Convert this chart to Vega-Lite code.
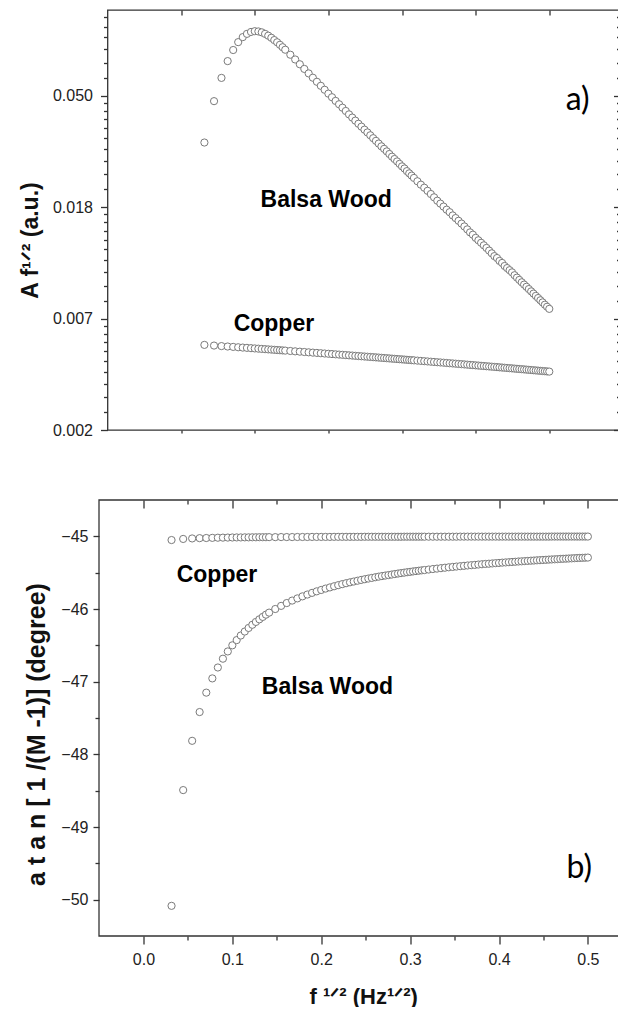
{
  "$schema": "https://vega.github.io/schema/vega-lite/v6.json",
  "background": "white",
  "padding": {"left": 18.5, "top": 8, "right": 0, "bottom": 0},
  "spacing": 60,
  "config": {
    "view": {"stroke": "#333", "strokeWidth": 1.3},
    "axis": {"labelFont": "Liberation Sans", "labelFontSize": 16, "labelColor": "#222", "titleFont": "Liberation Sans", "titleFontWeight": "bold", "titleColor": "#111", "tickColor": "#333", "tickWidth": 1.3, "domain": false, "grid": false, "labelFlush": false, "labelOverlap": false}
  },
  "datasets": {
    "amp": [
      {"s":"Balsa Wood","x":0.0316,"y":0.0327},{"s":"Balsa Wood","x":0.0447,"y":0.0474},{"s":"Balsa Wood","x":0.0548,"y":0.0584},{"s":"Balsa Wood","x":0.0632,"y":0.0679},{"s":"Balsa Wood","x":0.0707,"y":0.075},{"s":"Balsa Wood","x":0.0775,"y":0.0805},{"s":"Balsa Wood","x":0.0837,"y":0.0842},{"s":"Balsa Wood","x":0.0894,"y":0.0867},{"s":"Balsa Wood","x":0.0949,"y":0.0882},{"s":"Balsa Wood","x":0.1,"y":0.0888},
      {"s":"Balsa Wood","x":0.1049,"y":0.0886},{"s":"Balsa Wood","x":0.1095,"y":0.0879},{"s":"Balsa Wood","x":0.114,"y":0.0867},{"s":"Balsa Wood","x":0.1183,"y":0.0853},{"s":"Balsa Wood","x":0.1225,"y":0.0837},{"s":"Balsa Wood","x":0.1265,"y":0.082},{"s":"Balsa Wood","x":0.1304,"y":0.0804},{"s":"Balsa Wood","x":0.1342,"y":0.0786},{"s":"Balsa Wood","x":0.1378,"y":0.0769},{"s":"Balsa Wood","x":0.1414,"y":0.0752},
      {"s":"Balsa Wood","x":0.1483,"y":0.0719},{"s":"Balsa Wood","x":0.1549,"y":0.0689},{"s":"Balsa Wood","x":0.1612,"y":0.066},{"s":"Balsa Wood","x":0.1673,"y":0.0633},{"s":"Balsa Wood","x":0.1732,"y":0.0608},{"s":"Balsa Wood","x":0.1789,"y":0.0585},{"s":"Balsa Wood","x":0.1844,"y":0.0564},{"s":"Balsa Wood","x":0.1897,"y":0.0544},{"s":"Balsa Wood","x":0.1949,"y":0.0525},{"s":"Balsa Wood","x":0.2,"y":0.0507},
      {"s":"Balsa Wood","x":0.2049,"y":0.0491},{"s":"Balsa Wood","x":0.2098,"y":0.0475},{"s":"Balsa Wood","x":0.2145,"y":0.0461},{"s":"Balsa Wood","x":0.2191,"y":0.0447},{"s":"Balsa Wood","x":0.2236,"y":0.0434},{"s":"Balsa Wood","x":0.228,"y":0.0421},{"s":"Balsa Wood","x":0.2324,"y":0.0409},{"s":"Balsa Wood","x":0.2366,"y":0.0398},{"s":"Balsa Wood","x":0.2408,"y":0.0387},{"s":"Balsa Wood","x":0.2449,"y":0.0377},
      {"s":"Balsa Wood","x":0.249,"y":0.0367},{"s":"Balsa Wood","x":0.253,"y":0.0358},{"s":"Balsa Wood","x":0.2569,"y":0.0349},{"s":"Balsa Wood","x":0.2608,"y":0.034},{"s":"Balsa Wood","x":0.2646,"y":0.0332},{"s":"Balsa Wood","x":0.2683,"y":0.0324},{"s":"Balsa Wood","x":0.272,"y":0.0316},{"s":"Balsa Wood","x":0.2757,"y":0.0309},{"s":"Balsa Wood","x":0.2793,"y":0.0302},{"s":"Balsa Wood","x":0.2828,"y":0.0295},
      {"s":"Balsa Wood","x":0.2864,"y":0.0288},{"s":"Balsa Wood","x":0.2898,"y":0.0282},{"s":"Balsa Wood","x":0.2933,"y":0.0276},{"s":"Balsa Wood","x":0.2966,"y":0.027},{"s":"Balsa Wood","x":0.3,"y":0.0264},{"s":"Balsa Wood","x":0.3033,"y":0.0259},{"s":"Balsa Wood","x":0.3066,"y":0.0253},{"s":"Balsa Wood","x":0.3098,"y":0.0248},{"s":"Balsa Wood","x":0.313,"y":0.0243},{"s":"Balsa Wood","x":0.3162,"y":0.0238},
      {"s":"Balsa Wood","x":0.3209,"y":0.0231},{"s":"Balsa Wood","x":0.3256,"y":0.0224},{"s":"Balsa Wood","x":0.3302,"y":0.0218},{"s":"Balsa Wood","x":0.3347,"y":0.0212},{"s":"Balsa Wood","x":0.3391,"y":0.0206},{"s":"Balsa Wood","x":0.3435,"y":0.02},{"s":"Balsa Wood","x":0.3479,"y":0.0194},{"s":"Balsa Wood","x":0.3521,"y":0.0189},{"s":"Balsa Wood","x":0.3564,"y":0.0184},{"s":"Balsa Wood","x":0.3606,"y":0.0179},
      {"s":"Balsa Wood","x":0.3647,"y":0.0175},{"s":"Balsa Wood","x":0.3688,"y":0.017},{"s":"Balsa Wood","x":0.3728,"y":0.0166},{"s":"Balsa Wood","x":0.3768,"y":0.0162},{"s":"Balsa Wood","x":0.3808,"y":0.0158},{"s":"Balsa Wood","x":0.3847,"y":0.0154},{"s":"Balsa Wood","x":0.3886,"y":0.015},{"s":"Balsa Wood","x":0.3924,"y":0.0146},{"s":"Balsa Wood","x":0.3962,"y":0.0143},{"s":"Balsa Wood","x":0.4,"y":0.0139},
      {"s":"Balsa Wood","x":0.4037,"y":0.0136},{"s":"Balsa Wood","x":0.4074,"y":0.0133},{"s":"Balsa Wood","x":0.4111,"y":0.013},{"s":"Balsa Wood","x":0.4147,"y":0.0127},{"s":"Balsa Wood","x":0.4183,"y":0.0124},{"s":"Balsa Wood","x":0.4219,"y":0.0121},{"s":"Balsa Wood","x":0.4254,"y":0.0118},{"s":"Balsa Wood","x":0.429,"y":0.0116},{"s":"Balsa Wood","x":0.4324,"y":0.0113},{"s":"Balsa Wood","x":0.4359,"y":0.0111},
      {"s":"Balsa Wood","x":0.4393,"y":0.0108},{"s":"Balsa Wood","x":0.4427,"y":0.0106},{"s":"Balsa Wood","x":0.4461,"y":0.0104},{"s":"Balsa Wood","x":0.4494,"y":0.0102},{"s":"Balsa Wood","x":0.4528,"y":0.00994},{"s":"Balsa Wood","x":0.4561,"y":0.00973},{"s":"Balsa Wood","x":0.4593,"y":0.00953},{"s":"Balsa Wood","x":0.4626,"y":0.00933},{"s":"Balsa Wood","x":0.4658,"y":0.00914},{"s":"Balsa Wood","x":0.469,"y":0.00896},
      {"s":"Balsa Wood","x":0.4722,"y":0.00878},{"s":"Balsa Wood","x":0.4754,"y":0.0086},{"s":"Balsa Wood","x":0.4785,"y":0.00843},{"s":"Balsa Wood","x":0.4817,"y":0.00826},{"s":"Balsa Wood","x":0.4848,"y":0.0081},{"s":"Balsa Wood","x":0.4879,"y":0.00794},{"s":"Balsa Wood","x":0.4909,"y":0.00779},{"s":"Balsa Wood","x":0.494,"y":0.00763},{"s":"Balsa Wood","x":0.497,"y":0.00749},{"s":"Balsa Wood","x":0.5,"y":0.00735},
      {"s":"Copper","x":0.0316,"y":0.00532},{"s":"Copper","x":0.0447,"y":0.005288},{"s":"Copper","x":0.0548,"y":0.005263},{"s":"Copper","x":0.0632,"y":0.005243},{"s":"Copper","x":0.0707,"y":0.005225},{"s":"Copper","x":0.0775,"y":0.005208},{"s":"Copper","x":0.0837,"y":0.005193},{"s":"Copper","x":0.0894,"y":0.00518},{"s":"Copper","x":0.0949,"y":0.005166},{"s":"Copper","x":0.1,"y":0.005154},
      {"s":"Copper","x":0.1049,"y":0.005142},{"s":"Copper","x":0.1095,"y":0.005131},{"s":"Copper","x":0.114,"y":0.00512},{"s":"Copper","x":0.1183,"y":0.00511},{"s":"Copper","x":0.1225,"y":0.0051},{"s":"Copper","x":0.1265,"y":0.00509},{"s":"Copper","x":0.1304,"y":0.00508},{"s":"Copper","x":0.1342,"y":0.005071},{"s":"Copper","x":0.1378,"y":0.005063},{"s":"Copper","x":0.1414,"y":0.005054},
      {"s":"Copper","x":0.1483,"y":0.005037},{"s":"Copper","x":0.1549,"y":0.005021},{"s":"Copper","x":0.1612,"y":0.005006},{"s":"Copper","x":0.1673,"y":0.004991},{"s":"Copper","x":0.1732,"y":0.004977},{"s":"Copper","x":0.1789,"y":0.004963},{"s":"Copper","x":0.1844,"y":0.00495},{"s":"Copper","x":0.1897,"y":0.004937},{"s":"Copper","x":0.1949,"y":0.004924},{"s":"Copper","x":0.2,"y":0.004912},
      {"s":"Copper","x":0.2049,"y":0.0049},{"s":"Copper","x":0.2098,"y":0.004888},{"s":"Copper","x":0.2145,"y":0.004877},{"s":"Copper","x":0.2191,"y":0.004866},{"s":"Copper","x":0.2236,"y":0.004855},{"s":"Copper","x":0.228,"y":0.004844},{"s":"Copper","x":0.2324,"y":0.004834},{"s":"Copper","x":0.2366,"y":0.004823},{"s":"Copper","x":0.2408,"y":0.004813},{"s":"Copper","x":0.2449,"y":0.004803},
      {"s":"Copper","x":0.249,"y":0.004793},{"s":"Copper","x":0.253,"y":0.004784},{"s":"Copper","x":0.2569,"y":0.004774},{"s":"Copper","x":0.2608,"y":0.004765},{"s":"Copper","x":0.2646,"y":0.004756},{"s":"Copper","x":0.2683,"y":0.004747},{"s":"Copper","x":0.272,"y":0.004738},{"s":"Copper","x":0.2757,"y":0.004729},{"s":"Copper","x":0.2793,"y":0.00472},{"s":"Copper","x":0.2828,"y":0.004712},
      {"s":"Copper","x":0.2864,"y":0.004703},{"s":"Copper","x":0.2898,"y":0.004695},{"s":"Copper","x":0.2933,"y":0.004686},{"s":"Copper","x":0.2966,"y":0.004678},{"s":"Copper","x":0.3,"y":0.00467},{"s":"Copper","x":0.3033,"y":0.004662},{"s":"Copper","x":0.3066,"y":0.004654},{"s":"Copper","x":0.3098,"y":0.004646},{"s":"Copper","x":0.313,"y":0.004639},{"s":"Copper","x":0.3162,"y":0.004631},
      {"s":"Copper","x":0.3209,"y":0.004619},{"s":"Copper","x":0.3256,"y":0.004608},{"s":"Copper","x":0.3302,"y":0.004597},{"s":"Copper","x":0.3347,"y":0.004586},{"s":"Copper","x":0.3391,"y":0.004575},{"s":"Copper","x":0.3435,"y":0.004565},{"s":"Copper","x":0.3479,"y":0.004554},{"s":"Copper","x":0.3521,"y":0.004544},{"s":"Copper","x":0.3564,"y":0.004534},{"s":"Copper","x":0.3606,"y":0.004523},
      {"s":"Copper","x":0.3647,"y":0.004513},{"s":"Copper","x":0.3688,"y":0.004504},{"s":"Copper","x":0.3728,"y":0.004494},{"s":"Copper","x":0.3768,"y":0.004484},{"s":"Copper","x":0.3808,"y":0.004475},{"s":"Copper","x":0.3847,"y":0.004465},{"s":"Copper","x":0.3886,"y":0.004456},{"s":"Copper","x":0.3924,"y":0.004446},{"s":"Copper","x":0.3962,"y":0.004437},{"s":"Copper","x":0.4,"y":0.004428},
      {"s":"Copper","x":0.4037,"y":0.004419},{"s":"Copper","x":0.4074,"y":0.00441},{"s":"Copper","x":0.4111,"y":0.004401},{"s":"Copper","x":0.4147,"y":0.004392},{"s":"Copper","x":0.4183,"y":0.004384},{"s":"Copper","x":0.4219,"y":0.004375},{"s":"Copper","x":0.4254,"y":0.004367},{"s":"Copper","x":0.429,"y":0.004358},{"s":"Copper","x":0.4324,"y":0.00435},{"s":"Copper","x":0.4359,"y":0.004341},
      {"s":"Copper","x":0.4393,"y":0.004333},{"s":"Copper","x":0.4427,"y":0.004325},{"s":"Copper","x":0.4461,"y":0.004316},{"s":"Copper","x":0.4494,"y":0.004309},{"s":"Copper","x":0.4528,"y":0.0043},{"s":"Copper","x":0.4561,"y":0.004292},{"s":"Copper","x":0.4593,"y":0.004285},{"s":"Copper","x":0.4626,"y":0.004277},{"s":"Copper","x":0.4658,"y":0.004269},{"s":"Copper","x":0.469,"y":0.004261},
      {"s":"Copper","x":0.4722,"y":0.004253},{"s":"Copper","x":0.4754,"y":0.004246},{"s":"Copper","x":0.4785,"y":0.004238},{"s":"Copper","x":0.4817,"y":0.00423},{"s":"Copper","x":0.4848,"y":0.004223},{"s":"Copper","x":0.4879,"y":0.004215},{"s":"Copper","x":0.4909,"y":0.004208},{"s":"Copper","x":0.494,"y":0.004201},{"s":"Copper","x":0.497,"y":0.004193},{"s":"Copper","x":0.5,"y":0.004186}
    ],
    "phase": [
      {"s":"Balsa Wood","x":0.0316,"y":-50.085},{"s":"Balsa Wood","x":0.0447,"y":-48.492},{"s":"Balsa Wood","x":0.0548,"y":-47.814},{"s":"Balsa Wood","x":0.0632,"y":-47.418},{"s":"Balsa Wood","x":0.0707,"y":-47.151},{"s":"Balsa Wood","x":0.0775,"y":-46.955},{"s":"Balsa Wood","x":0.0837,"y":-46.805},{"s":"Balsa Wood","x":0.0894,"y":-46.684},{"s":"Balsa Wood","x":0.0949,"y":-46.584},{"s":"Balsa Wood","x":0.1,"y":-46.5},
      {"s":"Balsa Wood","x":0.1049,"y":-46.428},{"s":"Balsa Wood","x":0.1095,"y":-46.365},{"s":"Balsa Wood","x":0.114,"y":-46.31},{"s":"Balsa Wood","x":0.1183,"y":-46.261},{"s":"Balsa Wood","x":0.1225,"y":-46.217},{"s":"Balsa Wood","x":0.1265,"y":-46.178},{"s":"Balsa Wood","x":0.1304,"y":-46.142},{"s":"Balsa Wood","x":0.1342,"y":-46.109},{"s":"Balsa Wood","x":0.1378,"y":-46.078},{"s":"Balsa Wood","x":0.1414,"y":-46.05},
      {"s":"Balsa Wood","x":0.1483,"y":-46.0},{"s":"Balsa Wood","x":0.1549,"y":-45.957},{"s":"Balsa Wood","x":0.1612,"y":-45.918},{"s":"Balsa Wood","x":0.1673,"y":-45.884},{"s":"Balsa Wood","x":0.1732,"y":-45.854},{"s":"Balsa Wood","x":0.1789,"y":-45.826},{"s":"Balsa Wood","x":0.1844,"y":-45.801},{"s":"Balsa Wood","x":0.1897,"y":-45.778},{"s":"Balsa Wood","x":0.1949,"y":-45.757},{"s":"Balsa Wood","x":0.2,"y":-45.738},
      {"s":"Balsa Wood","x":0.2049,"y":-45.719},{"s":"Balsa Wood","x":0.2098,"y":-45.703},{"s":"Balsa Wood","x":0.2145,"y":-45.687},{"s":"Balsa Wood","x":0.2191,"y":-45.672},{"s":"Balsa Wood","x":0.2236,"y":-45.658},{"s":"Balsa Wood","x":0.228,"y":-45.645},{"s":"Balsa Wood","x":0.2324,"y":-45.633},{"s":"Balsa Wood","x":0.2366,"y":-45.622},{"s":"Balsa Wood","x":0.2408,"y":-45.611},{"s":"Balsa Wood","x":0.2449,"y":-45.6},
      {"s":"Balsa Wood","x":0.249,"y":-45.59},{"s":"Balsa Wood","x":0.253,"y":-45.581},{"s":"Balsa Wood","x":0.2569,"y":-45.572},{"s":"Balsa Wood","x":0.2608,"y":-45.563},{"s":"Balsa Wood","x":0.2646,"y":-45.555},{"s":"Balsa Wood","x":0.2683,"y":-45.547},{"s":"Balsa Wood","x":0.272,"y":-45.54},{"s":"Balsa Wood","x":0.2757,"y":-45.533},{"s":"Balsa Wood","x":0.2793,"y":-45.526},{"s":"Balsa Wood","x":0.2828,"y":-45.519},
      {"s":"Balsa Wood","x":0.2864,"y":-45.512},{"s":"Balsa Wood","x":0.2898,"y":-45.506},{"s":"Balsa Wood","x":0.2933,"y":-45.5},{"s":"Balsa Wood","x":0.2966,"y":-45.494},{"s":"Balsa Wood","x":0.3,"y":-45.489},{"s":"Balsa Wood","x":0.3033,"y":-45.483},{"s":"Balsa Wood","x":0.3066,"y":-45.478},{"s":"Balsa Wood","x":0.3098,"y":-45.473},{"s":"Balsa Wood","x":0.313,"y":-45.468},{"s":"Balsa Wood","x":0.3162,"y":-45.464},
      {"s":"Balsa Wood","x":0.3209,"y":-45.457},{"s":"Balsa Wood","x":0.3256,"y":-45.45},{"s":"Balsa Wood","x":0.3302,"y":-45.444},{"s":"Balsa Wood","x":0.3347,"y":-45.438},{"s":"Balsa Wood","x":0.3391,"y":-45.432},{"s":"Balsa Wood","x":0.3435,"y":-45.426},{"s":"Balsa Wood","x":0.3479,"y":-45.421},{"s":"Balsa Wood","x":0.3521,"y":-45.416},{"s":"Balsa Wood","x":0.3564,"y":-45.411},{"s":"Balsa Wood","x":0.3606,"y":-45.406},
      {"s":"Balsa Wood","x":0.3647,"y":-45.401},{"s":"Balsa Wood","x":0.3688,"y":-45.397},{"s":"Balsa Wood","x":0.3728,"y":-45.393},{"s":"Balsa Wood","x":0.3768,"y":-45.388},{"s":"Balsa Wood","x":0.3808,"y":-45.384},{"s":"Balsa Wood","x":0.3847,"y":-45.38},{"s":"Balsa Wood","x":0.3886,"y":-45.377},{"s":"Balsa Wood","x":0.3924,"y":-45.373},{"s":"Balsa Wood","x":0.3962,"y":-45.369},{"s":"Balsa Wood","x":0.4,"y":-45.366},
      {"s":"Balsa Wood","x":0.4037,"y":-45.362},{"s":"Balsa Wood","x":0.4074,"y":-45.359},{"s":"Balsa Wood","x":0.4111,"y":-45.356},{"s":"Balsa Wood","x":0.4147,"y":-45.353},{"s":"Balsa Wood","x":0.4183,"y":-45.35},{"s":"Balsa Wood","x":0.4219,"y":-45.346},{"s":"Balsa Wood","x":0.4254,"y":-45.344},{"s":"Balsa Wood","x":0.429,"y":-45.341},{"s":"Balsa Wood","x":0.4324,"y":-45.338},{"s":"Balsa Wood","x":0.4359,"y":-45.335},
      {"s":"Balsa Wood","x":0.4393,"y":-45.333},{"s":"Balsa Wood","x":0.4427,"y":-45.33},{"s":"Balsa Wood","x":0.4461,"y":-45.328},{"s":"Balsa Wood","x":0.4494,"y":-45.325},{"s":"Balsa Wood","x":0.4528,"y":-45.323},{"s":"Balsa Wood","x":0.4561,"y":-45.32},{"s":"Balsa Wood","x":0.4593,"y":-45.318},{"s":"Balsa Wood","x":0.4626,"y":-45.316},{"s":"Balsa Wood","x":0.4658,"y":-45.314},{"s":"Balsa Wood","x":0.469,"y":-45.311},
      {"s":"Balsa Wood","x":0.4722,"y":-45.309},{"s":"Balsa Wood","x":0.4754,"y":-45.307},{"s":"Balsa Wood","x":0.4785,"y":-45.305},{"s":"Balsa Wood","x":0.4817,"y":-45.303},{"s":"Balsa Wood","x":0.4848,"y":-45.301},{"s":"Balsa Wood","x":0.4879,"y":-45.299},{"s":"Balsa Wood","x":0.4909,"y":-45.297},{"s":"Balsa Wood","x":0.494,"y":-45.296},{"s":"Balsa Wood","x":0.497,"y":-45.294},{"s":"Balsa Wood","x":0.5,"y":-45.292},
      {"s":"Copper","x":0.0316,"y":-45.051},{"s":"Copper","x":0.0447,"y":-45.036},{"s":"Copper","x":0.0548,"y":-45.029},{"s":"Copper","x":0.0632,"y":-45.025},{"s":"Copper","x":0.0707,"y":-45.023},{"s":"Copper","x":0.0775,"y":-45.021},{"s":"Copper","x":0.0837,"y":-45.019},{"s":"Copper","x":0.0894,"y":-45.018},{"s":"Copper","x":0.0949,"y":-45.017},{"s":"Copper","x":0.1,"y":-45.016},
      {"s":"Copper","x":0.1049,"y":-45.015},{"s":"Copper","x":0.1095,"y":-45.015},{"s":"Copper","x":0.114,"y":-45.014},{"s":"Copper","x":0.1183,"y":-45.014},{"s":"Copper","x":0.1225,"y":-45.013},{"s":"Copper","x":0.1265,"y":-45.013},{"s":"Copper","x":0.1304,"y":-45.012},{"s":"Copper","x":0.1342,"y":-45.012},{"s":"Copper","x":0.1378,"y":-45.012},{"s":"Copper","x":0.1414,"y":-45.011},
      {"s":"Copper","x":0.1483,"y":-45.011},{"s":"Copper","x":0.1549,"y":-45.01},{"s":"Copper","x":0.1612,"y":-45.01},{"s":"Copper","x":0.1673,"y":-45.01},{"s":"Copper","x":0.1732,"y":-45.009},{"s":"Copper","x":0.1789,"y":-45.009},{"s":"Copper","x":0.1844,"y":-45.009},{"s":"Copper","x":0.1897,"y":-45.008},{"s":"Copper","x":0.1949,"y":-45.008},{"s":"Copper","x":0.2,"y":-45.008},
      {"s":"Copper","x":0.2049,"y":-45.008},{"s":"Copper","x":0.2098,"y":-45.008},{"s":"Copper","x":0.2145,"y":-45.007},{"s":"Copper","x":0.2191,"y":-45.007},{"s":"Copper","x":0.2236,"y":-45.007},{"s":"Copper","x":0.228,"y":-45.007},{"s":"Copper","x":0.2324,"y":-45.007},{"s":"Copper","x":0.2366,"y":-45.007},{"s":"Copper","x":0.2408,"y":-45.007},{"s":"Copper","x":0.2449,"y":-45.007},
      {"s":"Copper","x":0.249,"y":-45.006},{"s":"Copper","x":0.253,"y":-45.006},{"s":"Copper","x":0.2569,"y":-45.006},{"s":"Copper","x":0.2608,"y":-45.006},{"s":"Copper","x":0.2646,"y":-45.006},{"s":"Copper","x":0.2683,"y":-45.006},{"s":"Copper","x":0.272,"y":-45.006},{"s":"Copper","x":0.2757,"y":-45.006},{"s":"Copper","x":0.2793,"y":-45.006},{"s":"Copper","x":0.2828,"y":-45.006},
      {"s":"Copper","x":0.2864,"y":-45.006},{"s":"Copper","x":0.2898,"y":-45.006},{"s":"Copper","x":0.2933,"y":-45.005},{"s":"Copper","x":0.2966,"y":-45.005},{"s":"Copper","x":0.3,"y":-45.005},{"s":"Copper","x":0.3033,"y":-45.005},{"s":"Copper","x":0.3066,"y":-45.005},{"s":"Copper","x":0.3098,"y":-45.005},{"s":"Copper","x":0.313,"y":-45.005},{"s":"Copper","x":0.3162,"y":-45.005},
      {"s":"Copper","x":0.3209,"y":-45.005},{"s":"Copper","x":0.3256,"y":-45.005},{"s":"Copper","x":0.3302,"y":-45.005},{"s":"Copper","x":0.3347,"y":-45.005},{"s":"Copper","x":0.3391,"y":-45.005},{"s":"Copper","x":0.3435,"y":-45.005},{"s":"Copper","x":0.3479,"y":-45.005},{"s":"Copper","x":0.3521,"y":-45.005},{"s":"Copper","x":0.3564,"y":-45.004},{"s":"Copper","x":0.3606,"y":-45.004},
      {"s":"Copper","x":0.3647,"y":-45.004},{"s":"Copper","x":0.3688,"y":-45.004},{"s":"Copper","x":0.3728,"y":-45.004},{"s":"Copper","x":0.3768,"y":-45.004},{"s":"Copper","x":0.3808,"y":-45.004},{"s":"Copper","x":0.3847,"y":-45.004},{"s":"Copper","x":0.3886,"y":-45.004},{"s":"Copper","x":0.3924,"y":-45.004},{"s":"Copper","x":0.3962,"y":-45.004},{"s":"Copper","x":0.4,"y":-45.004},
      {"s":"Copper","x":0.4037,"y":-45.004},{"s":"Copper","x":0.4074,"y":-45.004},{"s":"Copper","x":0.4111,"y":-45.004},{"s":"Copper","x":0.4147,"y":-45.004},{"s":"Copper","x":0.4183,"y":-45.004},{"s":"Copper","x":0.4219,"y":-45.004},{"s":"Copper","x":0.4254,"y":-45.004},{"s":"Copper","x":0.429,"y":-45.004},{"s":"Copper","x":0.4324,"y":-45.004},{"s":"Copper","x":0.4359,"y":-45.004},
      {"s":"Copper","x":0.4393,"y":-45.004},{"s":"Copper","x":0.4427,"y":-45.004},{"s":"Copper","x":0.4461,"y":-45.004},{"s":"Copper","x":0.4494,"y":-45.004},{"s":"Copper","x":0.4528,"y":-45.004},{"s":"Copper","x":0.4561,"y":-45.004},{"s":"Copper","x":0.4593,"y":-45.003},{"s":"Copper","x":0.4626,"y":-45.003},{"s":"Copper","x":0.4658,"y":-45.003},{"s":"Copper","x":0.469,"y":-45.003},
      {"s":"Copper","x":0.4722,"y":-45.003},{"s":"Copper","x":0.4754,"y":-45.003},{"s":"Copper","x":0.4785,"y":-45.003},{"s":"Copper","x":0.4817,"y":-45.003},{"s":"Copper","x":0.4848,"y":-45.003},{"s":"Copper","x":0.4879,"y":-45.003},{"s":"Copper","x":0.4909,"y":-45.003},{"s":"Copper","x":0.494,"y":-45.003},{"s":"Copper","x":0.497,"y":-45.003},{"s":"Copper","x":0.5,"y":-45.003}
    ]
  },
  "vconcat": [
    {
      "width": 511,
      "height": 420,
      "layer": [
        {
          "data": {"name": "amp"},
          "mark": {"type": "point", "shape": "circle", "filled": true, "fill": "white", "stroke": "#7a7a7a", "strokeWidth": 1, "size": 52, "opacity": 1},
          "encoding": {
            "x": {"field": "x", "type": "quantitative", "scale": {"domain": [-0.1, 0.594], "nice": false, "zero": false},
                  "axis": {"orient": "bottom", "values": [0, 0.1, 0.2, 0.3, 0.4, 0.5], "labels": false, "tickSize": 3, "title": null}},
            "y": {"field": "y", "type": "quantitative", "scale": {"type": "log", "base": 2.718281828459045, "domain": [0.0024787522, 0.1074], "nice": false},
                  "axis": {"orient": "left", "values": [0.0024787522, 0.006737947, 0.0183156389, 0.0497870684], "format": ".3f", "tickSize": 7, "labelPadding": 8,
                           "title": "A f¹ᐟ² (a.u.)", "titleFontSize": 23, "titlePadding": 10, "titleY": 230}}
          }
        },
        {
          "data": {"name": "amp"},
          "mark": {"type": "point", "opacity": 0},
          "encoding": {
            "x": {"field": "x", "type": "quantitative", "axis": {"orient": "top", "values": [0, 0.1, 0.2, 0.3, 0.4, 0.5], "labels": false, "tickSize": -5, "title": null}},
            "y": {"field": "y", "type": "quantitative", "axis": {"orient": "right", "values": [0.0024787522, 0.006737947, 0.0183156389, 0.0497870684], "labels": false, "tickSize": -5, "title": null}}
          }
        },
        {
          "data": {"name": "amp"},
          "mark": {"type": "point", "opacity": 0},
          "encoding": {
            "x": {"field": "x", "type": "quantitative", "axis": null},
            "y": {"field": "y", "type": "quantitative", "axis": {"orient": "left", "labels": false, "tickSize": 4, "title": null,
                  "values": [0.0029047, 0.0033306, 0.0037565, 0.0041824, 0.0046083, 0.0050342, 0.0054601, 0.005886, 0.0063119, 0.0078957, 0.0090535, 0.0102112, 0.011369, 0.0125268, 0.0136846, 0.0148423, 0.0160001, 0.0171579, 0.0214628, 0.0246099, 0.0277571, 0.0309042, 0.0340513, 0.0371985, 0.0403456, 0.0434928, 0.0466399, 0.0583419, 0.0668967, 0.0754515, 0.0840063, 0.0925612, 0.101116]}}
          }
        },
        {
          "data": {"name": "amp"},
          "mark": {"type": "point", "opacity": 0},
          "encoding": {
            "x": {"field": "x", "type": "quantitative", "axis": null},
            "y": {"field": "y", "type": "quantitative", "axis": {"orient": "right", "labels": false, "tickSize": -2, "title": null,
                  "values": [0.0029047, 0.0033306, 0.0037565, 0.0041824, 0.0046083, 0.0050342, 0.0054601, 0.005886, 0.0063119, 0.0078957, 0.0090535, 0.0102112, 0.011369, 0.0125268, 0.0136846, 0.0148423, 0.0160001, 0.0171579, 0.0214628, 0.0246099, 0.0277571, 0.0309042, 0.0340513, 0.0371985, 0.0403456, 0.0434928, 0.0466399, 0.0583419, 0.0668967, 0.0754515, 0.0840063, 0.0925612, 0.101116]}}
          }
        },
        {
          "data": {"values": [{}]},
          "mark": {"type": "text", "font": "Liberation Sans", "fontWeight": "bold", "fontSize": 23, "color": "#000"},
          "encoding": {
            "x": {"datum": 0.197, "type": "quantitative", "axis": null},
            "y": {"datum": 0.01955, "type": "quantitative", "axis": null},
            "text": {"value": "Balsa Wood"}
          }
        },
        {
          "data": {"values": [{}]},
          "mark": {"type": "text", "font": "Liberation Sans", "fontWeight": "bold", "fontSize": 23, "color": "#000"},
          "encoding": {
            "x": {"datum": 0.126, "type": "quantitative", "axis": null},
            "y": {"datum": 0.00639, "type": "quantitative", "axis": null},
            "text": {"value": "Copper"}
          }
        },
        {
          "data": {"values": [{}]},
          "mark": {"type": "text", "font": "Lato", "fontSize": 32, "color": "#000"},
          "encoding": {
            "x": {"datum": 0.5386, "type": "quantitative", "axis": null},
            "y": {"datum": 0.04795, "type": "quantitative", "axis": null},
            "text": {"value": "a)"}
          }
        }
      ],
      "resolve": {"axis": {"x": "independent", "y": "independent"}}
    },
    {
      "width": 511.5,
      "height": 436,
      "view": {"stroke": null},
      "layer": [
        {
          "data": {"values": [{}]},
          "mark": {"type": "rect", "fill": "transparent", "stroke": "#333", "strokeWidth": 1.3},
          "encoding": {
            "x": {"datum": -0.05, "type": "quantitative", "scale": {"domain": [-0.04044, 0.535], "nice": false, "zero": false}, "axis": null},
            "x2": {"datum": 0.535},
            "y": {"datum": -50.5, "type": "quantitative", "scale": {"domain": [-50.5, -44.5], "nice": false, "zero": false}, "axis": null},
            "y2": {"datum": -44.5}
          }
        },
        {
          "data": {"name": "phase"},
          "mark": {"type": "point", "shape": "circle", "filled": true, "fill": "white", "stroke": "#7a7a7a", "strokeWidth": 1, "size": 52, "opacity": 1},
          "encoding": {
            "x": {"field": "x", "type": "quantitative", "scale": {"domain": [-0.04044, 0.535], "nice": false, "zero": false},
                  "axis": {"orient": "bottom", "values": [0, 0.1, 0.2, 0.3, 0.4, 0.5], "format": ".1f", "tickSize": 8, "labelPadding": 7,
                           "title": "f ¹ᐟ² (Hz¹ᐟ²)", "titleFontSize": 22, "titlePadding": 19}},
            "y": {"field": "y", "type": "quantitative", "scale": {"domain": [-50.5, -44.5], "nice": false, "zero": false},
                  "axis": {"orient": "left", "offset": 8.5, "values": [-50, -49, -48, -47, -46, -45], "format": "d", "tickSize": 6, "labelPadding": 5,
                           "title": "a t a n [ 1 /(M -1)] (degree)", "titleFontSize": 25, "titlePadding": 11, "titleY": 234}}
          }
        },
        {
          "data": {"name": "phase"},
          "mark": {"type": "point", "opacity": 0},
          "encoding": {
            "x": {"field": "x", "type": "quantitative", "axis": {"orient": "top", "values": [0, 0.1, 0.2, 0.3, 0.4, 0.5], "labels": false, "tickSize": -8, "title": null}},
            "y": {"field": "y", "type": "quantitative", "axis": null}
          }
        },
        {
          "data": {"name": "phase"},
          "mark": {"type": "point", "opacity": 0},
          "encoding": {
            "x": {"field": "x", "type": "quantitative", "axis": {"orient": "bottom", "values": [0.05, 0.15, 0.25, 0.35, 0.45], "labels": false, "tickSize": 4, "title": null}},
            "y": {"field": "y", "type": "quantitative", "axis": {"orient": "left", "offset": 8.5, "values": [-49.5, -48.5, -47.5, -46.5, -45.5], "labels": false, "tickSize": 4, "title": null}}
          }
        },
        {
          "data": {"name": "phase"},
          "mark": {"type": "point", "opacity": 0},
          "encoding": {
            "x": {"field": "x", "type": "quantitative", "axis": {"orient": "top", "values": [0.05, 0.15, 0.25, 0.35, 0.45], "labels": false, "tickSize": -4, "title": null}},
            "y": {"field": "y", "type": "quantitative", "axis": null}
          }
        },
        {
          "data": {"values": [{}]},
          "mark": {"type": "text", "font": "Liberation Sans", "fontWeight": "bold", "fontSize": 23, "color": "#000"},
          "encoding": {
            "x": {"datum": 0.0827, "type": "quantitative", "axis": null},
            "y": {"datum": -45.53, "type": "quantitative", "axis": null},
            "text": {"value": "Copper"}
          }
        },
        {
          "data": {"values": [{}]},
          "mark": {"type": "text", "font": "Liberation Sans", "fontWeight": "bold", "fontSize": 23, "color": "#000"},
          "encoding": {
            "x": {"datum": 0.207, "type": "quantitative", "axis": null},
            "y": {"datum": -47.08, "type": "quantitative", "axis": null},
            "text": {"value": "Balsa Wood"}
          }
        },
        {
          "data": {"values": [{}]},
          "mark": {"type": "text", "font": "Lato", "fontSize": 32, "color": "#000"},
          "encoding": {
            "x": {"datum": 0.4904, "type": "quantitative", "axis": null},
            "y": {"datum": -49.56, "type": "quantitative", "axis": null},
            "text": {"value": "b)"}
          }
        }
      ],
      "resolve": {"axis": {"x": "independent", "y": "independent"}}
    }
  ]
}
